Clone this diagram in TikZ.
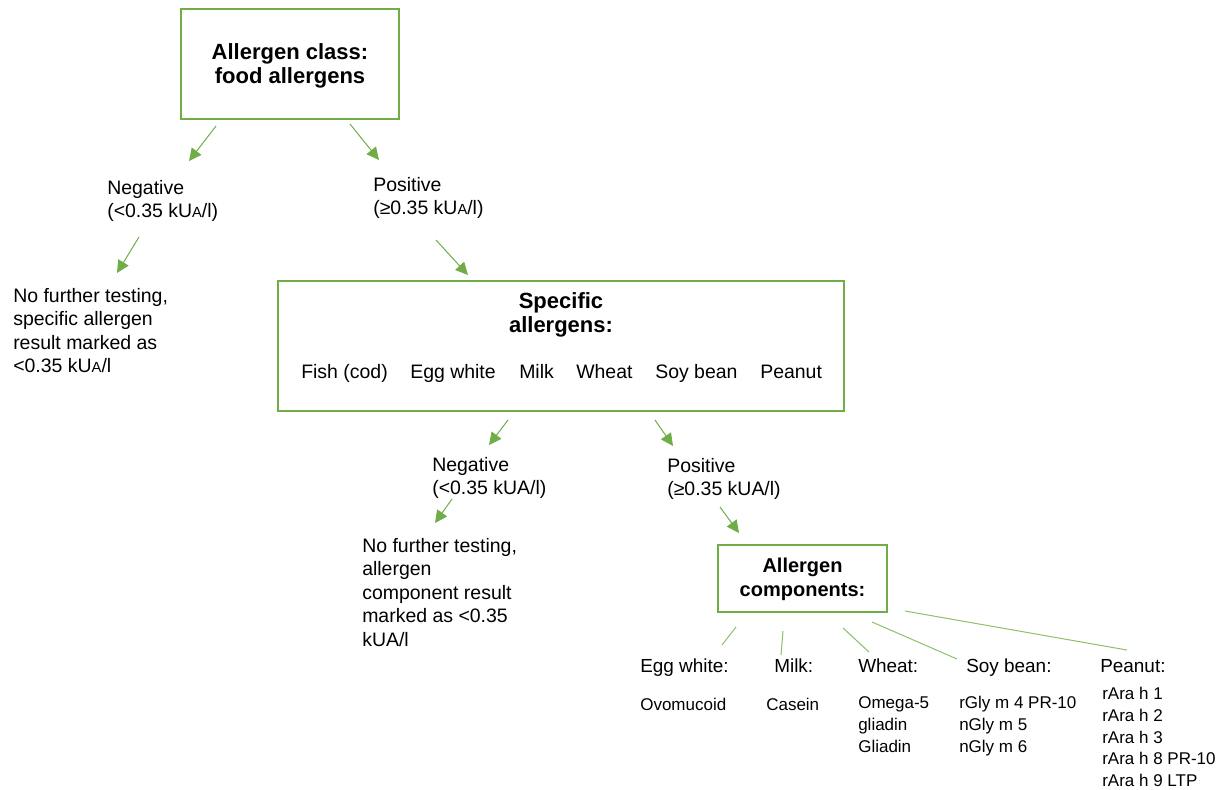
\documentclass[tikz,border=0pt]{standalone}
\usepackage{fontspec}
\setmainfont{Liberation Sans}
\usetikzlibrary{arrows.meta}
\definecolor{grn}{HTML}{70AD47}
\definecolor{lgrn}{HTML}{8CC168}
\newcommand{\smA}{{\fontsize{11pt}{11pt}\selectfont A}}
\begin{document}
\begin{tikzpicture}[x=0.75pt,y=-0.75pt,
  box/.style={draw=grn, line width=1.5pt, fill=white, inner sep=0pt},
  arr/.style={draw=grn, line width=0.75pt, -{Triangle[length=9.3pt,width=9pt]}},
  lnk/.style={draw=lgrn, line width=0.75pt},
  txt/.style={inner sep=0pt, align=left, font=\fontsize{14.6pt}{17.6pt}\selectfont},
  btxt/.style={inner sep=0pt, align=center, font=\bfseries\fontsize{16.5pt}{18pt}\selectfont},
  ctxt/.style={inner sep=0pt, align=left, font=\fontsize{14.2pt}{17pt}\selectfont},
  stxt/.style={inner sep=0pt, align=left, font=\fontsize{12.75pt}{16.5pt}\selectfont}
]
\useasboundingbox (0,0) rectangle (1226,789);
\fill[white] (0,0) rectangle (1226,789);

% top box
\node[box, minimum width=163.5pt, minimum height=82.5pt] (cls) at (290,64) {};
\node[btxt] (clst) at (290,65.5) {Allergen class:\\food allergens};

% first level
\node[txt, anchor=north west] (neg1) at (107,180) {Negative\\(<0.35 kU\smA/l)};
\node[txt, anchor=north west] (pos1) at (373,177) {Positive\\(≥0.35 kU\smA/l)};
\node[txt, anchor=north west] (nf1) at (13,288) {No further testing,\\specific allergen\\result marked as\\<0.35 kU\smA/l};

\coordinate (a1s) at (216,126); \coordinate (a1e) at (189,161);
\coordinate (a2s) at (350,124); \coordinate (a2e) at (379,160);
\coordinate (a3s) at (139,237); \coordinate (a3e) at (117,273);
\coordinate (a4s) at (436,240); \coordinate (a4e) at (468,275);
\draw[arr] (a1s) -- (a1e);
\draw[arr] (a2s) -- (a2e);
\draw[arr] (a3s) -- (a3e);
\draw[arr] (a4s) -- (a4e);

% specific allergens box
\node[box, minimum width=424.5pt, minimum height=97.5pt] (spec) at (561,346) {};
\node[btxt, anchor=north] (spect) at (561,292) {Specific\\allergens:};
\node[txt, anchor=base west] (fish) at (301,378) {Fish (cod)};
\node[txt, anchor=base west] (egg) at (410,378) {Egg white};
\node[txt, anchor=base west] (milk) at (519,378) {Milk};
\node[txt, anchor=base west] (wheat) at (576,378) {Wheat};
\node[txt, anchor=base west] (soy) at (655,378) {Soy bean};
\node[txt, anchor=base west] (pea) at (760,378) {Peanut};

% second level
\node[txt, anchor=north west] (neg2) at (432,457) {Negative\\(<0.35 kUA/l)};
\node[txt, anchor=north west] (pos2) at (667,458) {Positive\\(≥0.35 kUA/l)};
\node[txt, anchor=north west] (nf2) at (362,538) {No further testing,\\allergen\\component result\\marked as <0.35\\kUA/l};

\coordinate (b1s) at (508,420); \coordinate (b1e) at (489,445);
\coordinate (b2s) at (655,420); \coordinate (b2e) at (673,446);
\coordinate (b3s) at (452,499); \coordinate (b3e) at (435,523);
\coordinate (b4s) at (720,507); \coordinate (b4e) at (739,533);
\draw[arr] (b1s) -- (b1e);
\draw[arr] (b2s) -- (b2e);
\draw[arr] (b3s) -- (b3e);
\draw[arr] (b4s) -- (b4e);

% allergen components box
\node[box, minimum width=126.75pt, minimum height=50pt] (comp) at (802.5,578.5) {};
\node[btxt, font=\bfseries\fontsize{15pt}{18pt}\selectfont] (compt) at (802.5,579) {Allergen\\components:};

% component headers
\node[ctxt, anchor=base west] (hegg) at (640,672) {Egg white:};
\node[ctxt, anchor=base west] (hmilk) at (774,672) {Milk:};
\node[ctxt, anchor=base west] (hwheat) at (858,672) {Wheat:};
\node[ctxt, anchor=base west] (hsoy) at (966,672) {Soy bean:};
\node[ctxt, anchor=base west] (hpea) at (1100,672) {Peanut:};

\coordinate (c1s) at (736,627); \coordinate (c1e) at (722,645);
\coordinate (c2s) at (783,631); \coordinate (c2e) at (781,655);
\coordinate (c3s) at (843,628); \coordinate (c3e) at (869,652);
\coordinate (c4s) at (872,622); \coordinate (c4e) at (957,659);
\coordinate (c5s) at (905,611); \coordinate (c5e) at (1127,650);
\draw[lnk] (c1s) -- (c1e);
\draw[lnk] (c2s) -- (c2e);
\draw[lnk] (c3s) -- (c3e);
\draw[lnk] (c4s) -- (c4e);
\draw[lnk] (c5s) -- (c5e);

% component lists
\node[stxt, anchor=north west] (legg) at (640,698) {Ovomucoid};
\node[stxt, anchor=north west] (lmilk) at (766,698) {Casein};
\node[stxt, anchor=north west] (lwheat) at (858,696) {Omega-5\\gliadin\\Gliadin};
\node[stxt, anchor=north west] (lsoy) at (959,696) {rGly m 4 PR-10\\nGly m 5\\nGly m 6};
\node[stxt, anchor=north west, font=\fontsize{12.75pt}{16.3pt}\selectfont] (lpea) at (1102,687) {rAra h 1\\rAra h 2\\rAra h 3\\rAra h 8 PR-10\\rAra h 9 LTP};
\end{tikzpicture}
\end{document}
